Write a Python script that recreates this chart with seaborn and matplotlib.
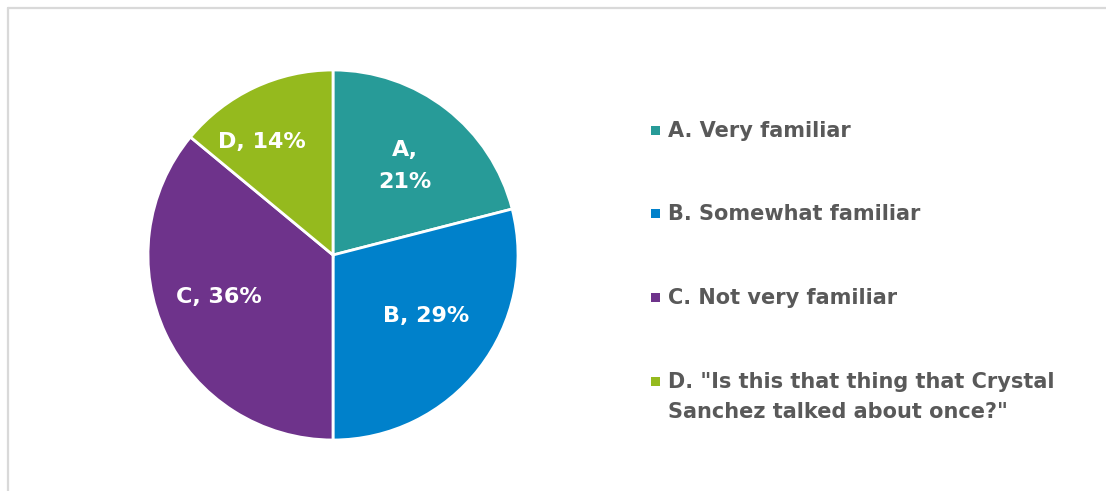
import matplotlib
matplotlib.use("Agg")
import numpy as np
import matplotlib.pyplot as plt
from matplotlib.patches import Rectangle
from matplotlib.lines import Line2D
import seaborn as sns

# Survey answers
codes = ["A", "B", "C", "D"]
shares = [21, 29, 36, 14]
answers = [
    "A. Very familiar",
    "B. Somewhat familiar",
    "C. Not very familiar",
    "D. \"Is this that thing that Crystal\nSanchez talked about once?\"",
]
slice_labels = ["A,\n21%", "B, 29%", "C, 36%", "D, 14%"]
colors = ["#279B98", "#0081CB", "#6E338B", "#95BA1E"]

sns.set_theme(style="white")
plt.rcParams["font.family"] = ["DejaVu Sans"]

W, H = 1106, 491
fig = plt.figure(figsize=(W / 100, H / 100), dpi=100)
fig.patch.set_facecolor("white")

# frame of the chart area
fig.add_artist(Line2D([8 / W, 1.0], [1 - 8 / H, 1 - 8 / H], transform=fig.transFigure,
                      color="#D9D9D9", lw=1.6))
fig.add_artist(Line2D([8 / W, 8 / W], [0, 1 - 8 / H], transform=fig.transFigure,
                      color="#D9D9D9", lw=1.6))

# pie axes: centre (333, 255) px, radius 185 px
cx, cy, r = 333, 255, 185
ax = fig.add_axes([(cx - r) / W, (H - cy - r) / H, 2 * r / W, 2 * r / H])
palette = sns.color_palette(colors)
label_iter = iter(slice_labels)
wedges, texts, autotexts = ax.pie(
    shares,
    colors=palette,
    startangle=90,
    counterclock=False,
    autopct=lambda p: next(label_iter),
    pctdistance=0.63,
    wedgeprops=dict(edgecolor="white", linewidth=2),
    textprops=dict(color="white", fontsize=16, fontweight="bold"),
)

# place each data label along its wedge's bisector
label_radius = [0.62, 0.60, 0.66, 0.72]
label_shift = [-1.0, 4.5, -5.0, 7.0]  # degrees, counter-clockwise
for w, t, lr, sh in zip(wedges, autotexts, label_radius, label_shift):
    mid = np.deg2rad((w.theta1 + w.theta2) / 2 + sh)
    t.set_position((lr * np.cos(mid), lr * np.sin(mid)))
    t.set_linespacing(1.75)

ax.set_xlim(-1, 1)
ax.set_ylim(-1, 1)
ax.set_aspect("equal")
ax.axis("off")

# legend entries on the right
legend_y = [130, 213, 297, 381]
for color, text, y in zip(palette, answers, legend_y):
    s = 9
    fig.add_artist(Rectangle(((655 - s / 2) / W, (H - y - s / 2) / H), s / W, s / H,
                             transform=fig.transFigure, facecolor=color, edgecolor="none"))
    fig.text(668 / W, (H - y + 9) / H, text, ha="left", va="top",
             fontsize=15, fontweight="bold", color="#595959", linespacing=1.62)

fig.savefig("out.png", dpi=100, facecolor="white")
